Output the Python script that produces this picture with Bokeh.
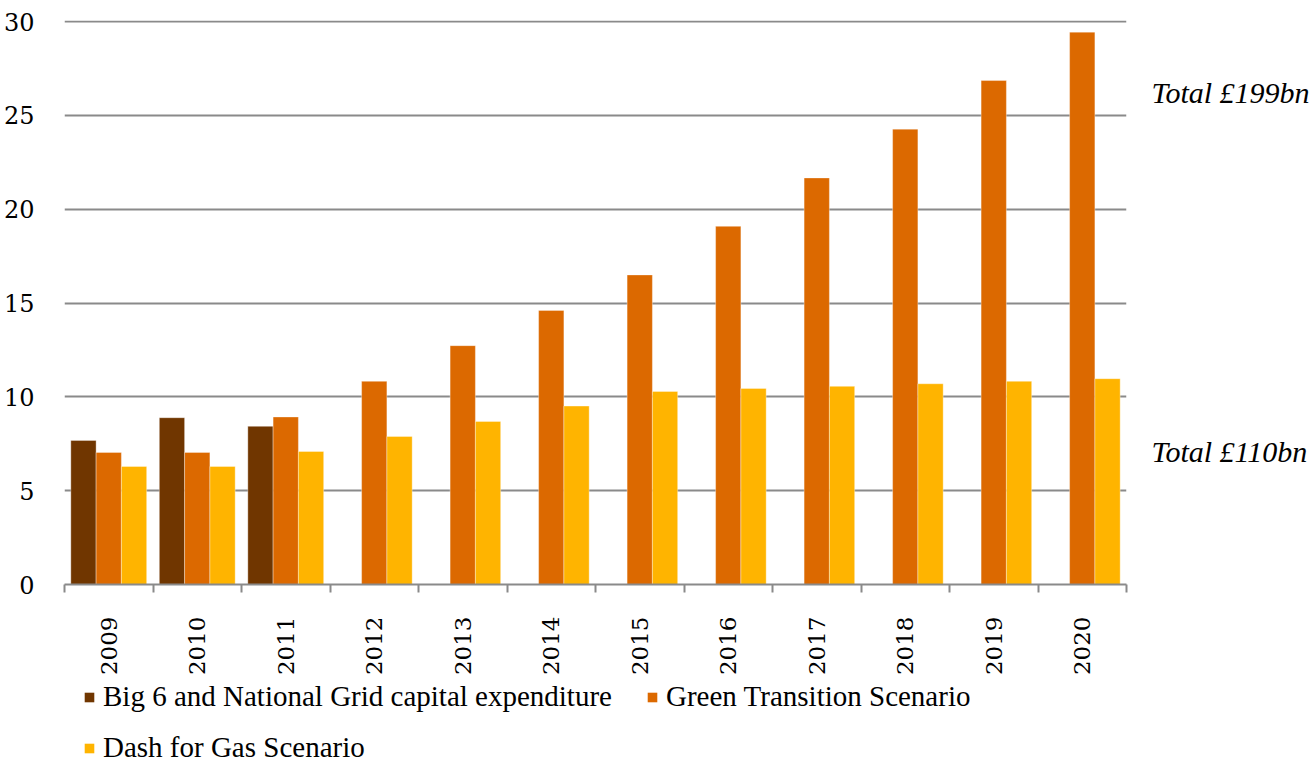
import numpy as np
from bokeh.plotting import figure
from bokeh.layouts import column
from bokeh.models import (ColumnDataSource, Range1d, FixedTicker, Legend, LegendItem,
                          LinearAxis)
from bokeh.transform import dodge
from bokeh.embed import file_html
from bokeh.resources import INLINE

# ---- data ----
years = ["2009", "2010", "2011", "2012", "2013", "2014",
         "2015", "2016", "2017", "2018", "2019", "2020"]
big6 = [7.68, 8.89, 8.43]  # 2009-2011 only
green = [7.04, 7.04, 8.93, 10.83, 12.73, 14.61, 16.50, 19.09, 21.67, 24.27, 26.86, 29.44]
gas = [6.29, 6.29, 7.09, 7.89, 8.69, 9.51, 10.29, 10.45, 10.56, 10.70, 10.83, 10.97]
y_ticks = [0, 5, 10, 15, 20, 25, 30]
series_names = ["Big 6 and National Grid capital expenditure",
                "Green Transition Scenario",
                "Dash for Gas Scenario"]
totals = ["Total £199bn", "Total £110bn"]
total_pos = [26.2, 7.1]

colors = ["#703600", "#DC6900", "#FFB400"]
grid_col = "#8a8a8a"
num_font = "DejaVu Serif"
txt_font = "Liberation Serif"
W = 1312

idx = list(range(len(years)))
src_all = ColumnDataSource(dict(x=idx, green=green, gas=gas))
src_b6 = ColumnDataSource(dict(x=idx[:len(big6)], big6=big6))

p = figure(width=W, height=680,
           x_range=Range1d(-0.5, len(years) - 0.5),
           y_range=Range1d(0, 30.06),
           output_backend="svg", toolbar_location=None,
           min_border_left=63, min_border_right=W - 63 - 1067,
           min_border_top=20, min_border_bottom=96)
p.outline_line_color = None
p.background_fill_color = "white"

bw = 0.2857
p.vbar(x=dodge("x", -bw, range=p.x_range), top="big6", width=bw, source=src_b6,
       fill_color=colors[0], line_color="white", line_alpha=0.35, line_width=1)
p.vbar(x=dodge("x", 0, range=p.x_range), top="green", width=bw, source=src_all,
       fill_color=colors[1], line_color="white", line_alpha=0.35, line_width=1)
p.vbar(x=dodge("x", bw, range=p.x_range), top="gas", width=bw, source=src_all,
       fill_color=colors[2], line_color="white", line_alpha=0.35, line_width=1)

# y axis
p.yaxis.ticker = FixedTicker(ticks=y_ticks)
p.yaxis.axis_line_color = None
p.yaxis.major_tick_line_color = None
p.yaxis.minor_tick_line_color = None
p.yaxis.major_label_standoff = 24
p.yaxis.major_label_text_font = num_font
p.yaxis.major_label_text_font_size = "24px"
p.yaxis.major_label_text_color = "black"
p.ygrid.grid_line_color = grid_col
p.ygrid.grid_line_width = 2
p.xgrid.grid_line_color = None

# right axis carrying the total annotations
rax = LinearAxis(ticker=FixedTicker(ticks=total_pos),
                 major_label_overrides={v: t for v, t in zip(total_pos, totals)})
rax.axis_line_color = None
rax.major_tick_line_color = None
rax.minor_tick_line_color = None
rax.major_label_standoff = 19
rax.major_label_text_font = txt_font
rax.major_label_text_font_style = "italic"
rax.major_label_text_font_size = "30px"
rax.major_label_text_color = "black"
p.add_layout(rax, "right")

# x axis
p.xaxis.ticker = FixedTicker(ticks=idx, minor_ticks=[i - 0.5 for i in range(len(years) + 1)])
p.xaxis.major_label_overrides = {i: y for i, y in zip(idx, years)}
p.xaxis.major_label_orientation = np.pi / 2
p.xaxis.major_tick_in = 0
p.xaxis.major_tick_out = 0
p.xaxis.minor_tick_in = 0
p.xaxis.minor_tick_out = 8
p.xaxis.minor_tick_line_color = grid_col
p.xaxis.minor_tick_line_width = 2
p.xaxis.axis_line_color = grid_col
p.xaxis.axis_line_width = 2
p.xaxis.major_label_standoff = 24
p.xaxis.major_label_text_font = num_font
p.xaxis.major_label_text_font_size = "23px"
p.xaxis.major_label_text_color = "black"

# ---- legend strip (keys reuse the same sources, kept outside this strip's view) ----
lg = figure(width=W, height=84, x_range=Range1d(-1000, -999), y_range=Range1d(1000, 1001),
            x_axis_type=None, y_axis_type=None,
            output_backend="svg", toolbar_location=None,
            min_border_left=0, min_border_right=0, min_border_top=0, min_border_bottom=0)
lg.outline_line_color = None
lg.xgrid.grid_line_color = None
lg.ygrid.grid_line_color = None
k1 = lg.vbar(x="x", top="big6", width=bw, source=src_b6, fill_color=colors[0], line_color=None)
k2 = lg.vbar(x="x", top="green", width=bw, source=src_all, fill_color=colors[1], line_color=None)
k3 = lg.vbar(x="x", top="gas", width=bw, source=src_all, fill_color=colors[2], line_color=None)

legend = Legend(items=[LegendItem(label=n, renderers=[r])
                       for n, r in zip(series_names, [k1, k2, k3])],
                orientation="horizontal", ncols=2,
                location=(19, 0),
                glyph_width=12, glyph_height=12, label_height=18, label_width=525,
                label_standoff=8, spacing=18, padding=0, margin=0,
                border_line_color=None, background_fill_alpha=0,
                label_text_font=txt_font, label_text_font_size="29px",
                label_text_color="black")
lg.add_layout(legend)

open("out.html", "w").write(file_html(column(p, lg, spacing=0), INLINE))
